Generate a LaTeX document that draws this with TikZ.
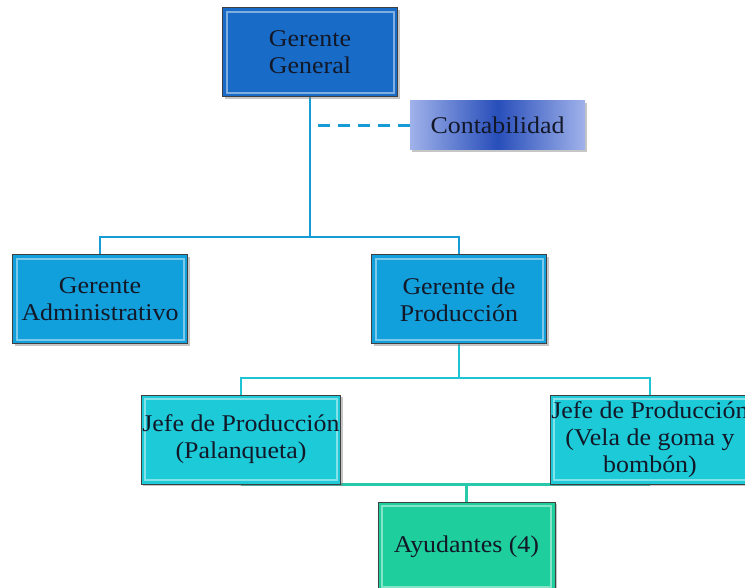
\documentclass[tikz,border=0pt]{standalone}
\usepackage{fontspec}
\setmainfont{Liberation Serif}[FakeStretch=1.08]
\usetikzlibrary{shadows,backgrounds}
\definecolor{azulGG}{RGB}{24,108,200}
\definecolor{azulG}{RGB}{18,160,220}
\definecolor{cianJ}{RGB}{28,202,216}
\definecolor{verdeA}{RGB}{30,206,156}
\definecolor{lineaA}{RGB}{22,155,215}
\definecolor{lineaB}{RGB}{30,196,212}
\definecolor{lineaC}{RGB}{40,200,170}
\definecolor{contaL}{RGB}{160,178,234}
\definecolor{contaD}{RGB}{40,78,186}
\definecolor{textoO}{RGB}{18,24,40}
\tikzset{
	caja/.style={draw=black!75, line width=1pt, minimum width=175pt, minimum height=89pt,
		align=center, inner sep=1pt, text=textoO, font=\fontsize{24}{27}\selectfont,
		drop shadow={shadow xshift=2pt, shadow yshift=-2pt, opacity=.45},
		path picture={\draw[white, opacity=.45, line width=2pt]
			([shift={(4pt,-4pt)}]path picture bounding box.north west) rectangle
			([shift={(-4pt,4pt)}]path picture bounding box.south east);}},
	conector/.style={line width=2.6pt}
}
\begin{document}
\begin{tikzpicture}[x=1pt,y=-1pt]
	%\draw[gray!20](0,0)grid(745,588);
	\useasboundingbox (0,0) rectangle (745,588);
	\node[caja, fill=azulGG] (gg) at (310,52.5) {Gerente\\General};
	\node[caja, draw=none, minimum height=49pt, left color=contaL, right color=contaL,
		middle color=contaD, path picture={}] (conta) at (497.5,125.5) {Contabilidad};
	\node[caja, fill=azulG] (ga) at (100,299.5) {Gerente\\Administrativo};
	\node[caja, fill=azulG] (gp) at (459,299.5) {Gerente de\\Producción};
	\node[caja, fill=cianJ, minimum width=198pt] (jp) at (241,439.5) {Jefe de Producción\\(Palanqueta)};
	\node[caja, fill=cianJ, minimum width=200pt] (jv) at (650,439.5) {Jefe de Producción\\(Vela de goma y\\bombón)};
	\node[caja, fill=verdeA, minimum width=177pt] (ay) at (466.5,546.5) {Ayudantes (4)};
	\begin{scope}[on background layer]
		\coordinate (b1) at (310,237);
		\coordinate (b2) at (459,378);
		\draw[conector, lineaA] (gg.south) -- (b1);
		\draw[conector, lineaA] (ga.north) |- (b1) -| (gp.north);
		\draw[conector, lineaA, dash pattern=on 12pt off 8pt] (conta.west) -- (conta.west -| gg.south);
		\draw[conector, lineaB] (gp.south) -- (b2);
		\draw[conector, lineaB] (jp.north) |- (b2) -| (jv.north);
		\draw[conector, lineaC] (jp.south) -- (jv.south);
		\draw[conector, lineaC] (ay.north) -- (ay.north |- jp.south);
	\end{scope}
\end{tikzpicture}
\end{document}
